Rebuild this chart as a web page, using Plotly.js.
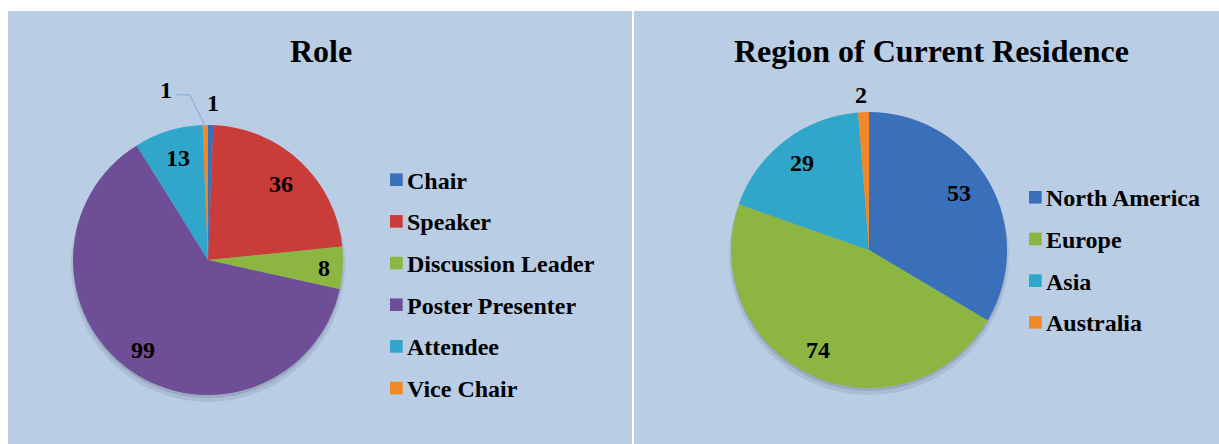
<!DOCTYPE html>
<html>
<head>
<meta charset="utf-8">
<script src="https://cdn.plot.ly/plotly-3.0.1.min.js"></script>
<style>html,body{margin:0;padding:0;background:#fff;}#chart{width:1219px;height:444px;}</style>
</head>
<body>
<div id="chart"></div>
<script>
// ---- data ----
const roleLabels = ["Chair", "Speaker", "Discussion Leader", "Poster Presenter", "Attendee", "Vice Chair"];
const roleValues = [1, 36, 8, 99, 13, 1];
const regionLabels = ["North America", "Europe", "Asia", "Australia"];
const regionValues = [53, 74, 29, 2];
const roleTitle = "Role";
const regionTitle = "Region of Current Residence";

// ---- style ----
const roleColors = ["#3A70BA", "#C93C39", "#8DB541", "#6F4E98", "#30A7CA", "#F0882A"];
const regionColors = ["#3A70BA", "#8DB541", "#30A7CA", "#F0882A"];
// label placement relative to slice mid-angle: [angle offset deg, radius factor]
const roleLabelPlace = [[0.7, 1.16], [0.5, 0.78], [0.6, 0.86], [0.7, 0.82], [0.7, 0.79], [-12.8, 1.30]];
const regionLabelPlace = [[-2.8, 0.77], [1.9, 0.81], [0.0, 0.80], [-0.7, 1.125]];

const W = 1219, H = 444;
const FONT = "Liberation Serif, Times New Roman, serif";
const px = x => x / W;
const py = y => 1 - y / H;

const pies = [
  {labels: roleLabels, values: roleValues, colors: roleColors, place: roleLabelPlace,
   cx: 208, cy: 260, r: 135, title: roleTitle, titleX: 321, titleY: 51,
   legX: 390, legY: 179.7, leaderIdx: 5},
  {labels: regionLabels, values: regionValues, colors: regionColors, place: regionLabelPlace,
   cx: 869, cy: 250, r: 138, title: regionTitle, titleX: 931, titleY: 51,
   legX: 1029, legY: 197.3, leaderIdx: -1}
];

const traces = [];
const annotations = [];
const shapes = [
  {type: "rect", xref: "paper", yref: "paper", x0: px(8), x1: px(632), y0: 0, y1: py(11),
   fillcolor: "#B9CDE5", line: {width: 0}, layer: "below"},
  {type: "rect", xref: "paper", yref: "paper", x0: px(634), x1: 1, y0: 0, y1: py(11),
   fillcolor: "#B9CDE5", line: {width: 0}, layer: "below"}
];

pies.forEach(p => {
  // soft shadow
  [[5, 0.10, 2], [3, 0.14, 0]].forEach(([off, a, grow]) => {
    shapes.push({type: "circle", xref: "paper", yref: "paper",
      x0: px(p.cx - p.r - grow), x1: px(p.cx + p.r + grow),
      y0: py(p.cy + p.r + off + grow), y1: py(p.cy - p.r + off - grow),
      fillcolor: "rgba(40,50,70," + a + ")", line: {width: 0}, layer: "below"});
  });
  traces.push({
    type: "pie", labels: p.labels, values: p.values, sort: false, direction: "clockwise",
    rotation: 0, textinfo: "none", hoverinfo: "label+value", showlegend: false,
    marker: {colors: p.colors, line: {width: 0}},
    domain: {x: [px(p.cx - p.r), px(p.cx + p.r)], y: [py(p.cy + p.r), py(p.cy - p.r)]}
  });
  // title
  annotations.push({xref: "paper", yref: "paper", x: px(p.titleX), y: py(p.titleY),
    text: "<b>" + p.title + "</b>", showarrow: false, xanchor: "center", yanchor: "middle",
    font: {family: FONT, size: 32, color: "#000"}});
  // data labels
  const total = p.values.reduce((a, b) => a + b, 0);
  let cum = 0;
  p.values.forEach((v, i) => {
    const mid = (cum + v / 2) / total * 360;
    cum += v;
    const ang = (mid + p.place[i][0]) * Math.PI / 180;
    const rr = p.place[i][1] * p.r;
    const lx = p.cx + rr * Math.sin(ang), ly = p.cy - rr * Math.cos(ang);
    annotations.push({xref: "paper", yref: "paper", x: px(lx), y: py(ly),
      text: "<b>" + v + "</b>", showarrow: false, xanchor: "center", yanchor: "middle",
      font: {family: FONT, size: 24, color: "#000"}});
    if (i === p.leaderIdx) {
      const m = mid * Math.PI / 180;
      const ex = p.cx + p.r * 0.99 * Math.sin(m), ey = p.cy - p.r * 0.99 * Math.cos(m);
      const sx = lx + 11, sy = ly + 5;
      shapes.push({type: "path", xref: "paper", yref: "paper",
        path: "M" + px(sx) + "," + py(sy) + " L" + px(sx + 13) + "," + py(sy) + " L" + px(ex) + "," + py(ey),
        line: {color: "#93B6E0", width: 1.5}});
    }
  });
  // legend
  p.labels.forEach((lab, i) => {
    const yc = p.legY + i * 41.67;
    shapes.push({type: "rect", xref: "paper", yref: "paper",
      x0: px(p.legX), x1: px(p.legX + 12.7), y0: py(yc + 6.3), y1: py(yc - 6.3),
      fillcolor: p.colors[i], line: {width: 0}});
    annotations.push({xref: "paper", yref: "paper", x: px(p.legX + 15), y: py(yc + 1),
      text: "<b>" + lab + "</b>", showarrow: false, xanchor: "left", yanchor: "middle",
      font: {family: FONT, size: 24, color: "#000"}});
  });
});

const layout = {
  width: W, height: H, margin: {l: 0, r: 0, t: 0, b: 0},
  paper_bgcolor: "#FFFFFF", plot_bgcolor: "#FFFFFF",
  showlegend: false, shapes: shapes, annotations: annotations
};
Plotly.newPlot("chart", traces, layout, {displayModeBar: false, staticPlot: true});
</script>
</body>
</html>
